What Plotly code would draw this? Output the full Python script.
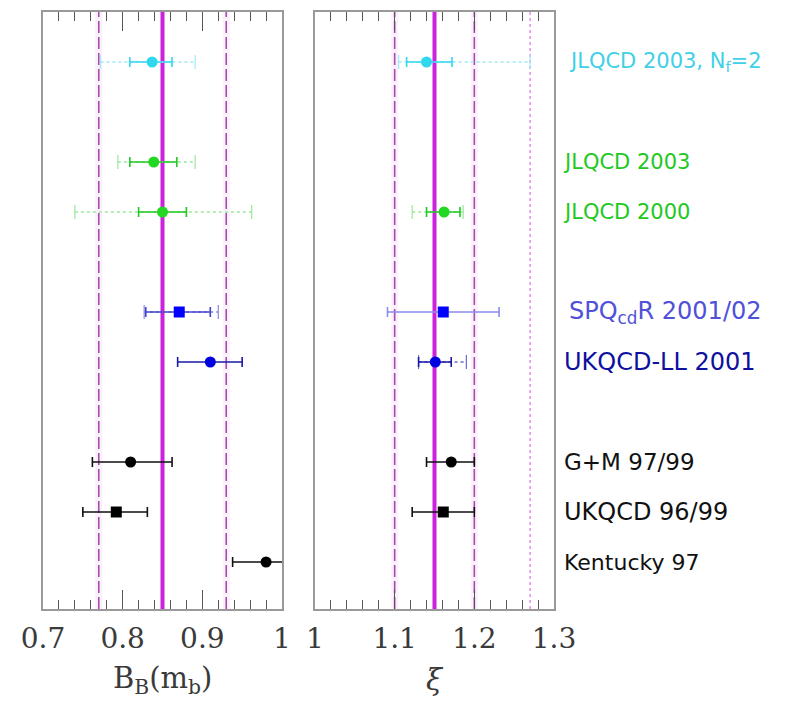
import plotly.graph_objects as go

# ---------------- data ----------------
labels = ["JLQCD 2003, N<sub>f</sub>=2", "JLQCD 2003", "JLQCD 2000",
          "SPQ<sub>cd</sub>R 2001/02", "UKQCD-LL 2001",
          "G+M 97/99", "UKQCD 96/99", "Kentucky 97"]
row = [1, 3, 4, 6, 7, 9, 10, 11]          # vertical slot of each result

# B_B(m_b)
bb_c      = [0.837, 0.839, 0.850, 0.871, 0.910, 0.810, 0.792, 0.980]
bb_lo     = [0.809, 0.809, 0.820, 0.829, 0.869, 0.762, 0.750, 0.938]
bb_hi     = [0.862, 0.868, 0.880, 0.910, 0.950, 0.862, 0.831, 1.022]
bb_sys_lo = [0.772, 0.794, 0.740, 0.827, None, None, None, None]
bb_sys_hi = [0.891, 0.891, 0.962, 0.920, None, None, None, None]

# xi
xi_c      = [1.140, None, 1.162, 1.161, 1.151, 1.171, 1.161, None]
xi_lo     = [1.115, None, 1.140, 1.091, 1.130, 1.140, 1.122, None]
xi_hi     = [1.172, None, 1.182, 1.231, 1.171, 1.200, 1.200, None]
xi_sys_lo = [1.105, None, 1.122, None, None, None, None, None]
xi_sys_hi = [1.270, None, 1.186, None, 1.190, None, None, None]

# averages: central, -err, +err, extra systematic
bb_avg = (0.85, 0.77, 0.93)
xi_avg = (1.15, 1.10, 1.20, 1.27)

# ---------------- styles ----------------
colors = ["#30d8ee", "#22d822", "#22d822", "#0000ff", "#0000e0", "#000000", "#000000", "#000000"]
bar_colors_bb = ["#30d8ee", "#22c822", "#22c822", "#4444cc", "#1a1aa8", "#111111", "#111111", "#111111"]
bar_colors_xi = ["#30d8ee", "#22c822", "#22c822", "#8c8cf0", "#1a1aa8", "#111111", "#111111", "#111111"]
sys_colors = ["#9cecf6", "#9ce89c", "#9ce89c", "#8888dd", "#6a6ad0", "#888888", "#888888", "#888888"]
label_colors = ["#40d0e8", "#22c822", "#22c822", "#5050d8", "#1010a0", "#111111", "#111111", "#111111"]
label_sizes = [21, 21, 21, 24, 24, 23, 24, 22]
label_x = [567, 561, 561, 567, 562, 562, 562, 562]
symbols = ["circle", "circle", "circle", "square", "circle", "circle", "square", "circle"]

fig = go.Figure()


def add_panel(xa, ya, c, lo, hi, slo, shi, barcols):
    for i in range(len(row)):
        if c[i] is None:
            continue
        if slo[i] is not None or shi[i] is not None:
            a = slo[i] if slo[i] is not None else lo[i]
            b = shi[i] if shi[i] is not None else hi[i]
            fig.add_trace(go.Scatter(x=[a, b], y=[row[i], row[i]], xaxis=xa, yaxis=ya,
                                     mode="lines+markers",
                                     line=dict(color=sys_colors[i], width=1.5, dash="dot"),
                                     marker=dict(symbol="line-ns", size=10,
                                                 line=dict(color=sys_colors[i], width=1.2)),
                                     showlegend=False, hoverinfo="skip"))
        fig.add_trace(go.Scatter(x=[c[i]], y=[row[i]], xaxis=xa, yaxis=ya, mode="markers",
                                 marker=dict(symbol=symbols[i], size=11, color=colors[i]),
                                 error_x=dict(type="data", symmetric=False,
                                              array=[hi[i] - c[i]], arrayminus=[c[i] - lo[i]],
                                              color=barcols[i], thickness=1.6, width=5),
                                 showlegend=False, hoverinfo="skip"))


def vline(xref, x, color, width, dash):
    fig.add_shape(type="line", xref=xref, yref=("y domain" if xref == "x" else "y2 domain"),
                  x0=x, x1=x, y0=0, y1=1, line=dict(color=color, width=width, dash=dash),
                  layer="below")


for v in (bb_avg[1], bb_avg[2]):
    vline("x", v, "#fdf0fd", 7, "solid")
    vline("x", v, "#a050a8", 1.6, "12px,4px")
vline("x", bb_avg[0], "#cc22dd", 4, "solid")

for v in (xi_avg[1], xi_avg[2]):
    vline("x2", v, "#fdf0fd", 7, "solid")
    vline("x2", v, "#a050a8", 1.6, "12px,4px")
vline("x2", xi_avg[3], "#e070e0", 1.2, "dot")
vline("x2", xi_avg[0], "#cc22dd", 4, "solid")

add_panel("x", "y", bb_c, bb_lo, bb_hi, bb_sys_lo, bb_sys_hi, bar_colors_bb)
add_panel("x2", "y2", xi_c, xi_lo, xi_hi, xi_sys_lo, xi_sys_hi, bar_colors_xi)

W, H = 791, 701
ytop, ybot = 12, 609
tickfont = dict(family="DejaVu Serif", size=28, color="#3a3a3a")

common_x = dict(showline=True, mirror="allticks", linecolor="#999999", linewidth=2,
                ticks="inside", ticklen=19, tickwidth=1.2, tickcolor="#555555",
                minor=dict(dtick=0.02, ticks="inside", ticklen=9, tickwidth=1.2, tickcolor="#555555"),
                showgrid=False, zeroline=False, tickfont=tickfont,
                ticklabelstandoff=3, automargin=False)
common_y = dict(showline=True, mirror=True, linecolor="#999999", linewidth=2,
                showticklabels=False, ticks="", showgrid=False, zeroline=False,
                range=[(ybot - ytop) / 50.0, 0], automargin=False)

fig.update_layout(
    width=W, height=H, margin=dict(l=0, r=0, t=0, b=0, autoexpand=False),
    paper_bgcolor="white", plot_bgcolor="white",
    xaxis=dict(domain=[43 / W, 282 / W], range=[0.7, 1.0],
               tickvals=[0.7, 0.8, 0.9, 1.0], ticktext=["0.7", "0.8", "0.9", "1"], **common_x),
    xaxis2=dict(domain=[315 / W, 554 / W], range=[1.0, 1.3], anchor="y2",
                tickvals=[1.0, 1.1, 1.2, 1.3], ticktext=["1", "1.1", "1.2", "1.3"], **common_x),
    yaxis=dict(domain=[1 - ybot / H, 1 - ytop / H], anchor="x", **common_y),
    yaxis2=dict(domain=[1 - ybot / H, 1 - ytop / H], anchor="x2", **common_y),
)

for i in range(len(labels)):
    fig.add_annotation(x=label_x[i] / W, xref="paper", y=row[i], yref="y2", text=labels[i],
                       showarrow=False, xanchor="left", yanchor="middle",
                       font=dict(family="DejaVu Sans", size=label_sizes[i], color=label_colors[i]))

fig.add_annotation(x=162 / W, y=1 - 680 / H, xref="paper", yref="paper",
                   text="B<sub>B</sub>(m<sub>b</sub>)", showarrow=False,
                   xanchor="center", yanchor="middle",
                   font=dict(family="DejaVu Serif", size=29, color="#3a3a3a"))
fig.add_annotation(x=435 / W, y=1 - 680 / H, xref="paper", yref="paper",
                   text="<i>ξ</i>", showarrow=False, xanchor="center", yanchor="middle",
                   font=dict(family="DejaVu Serif", size=29, color="#3a3a3a"))

fig.write_html("out.html")
